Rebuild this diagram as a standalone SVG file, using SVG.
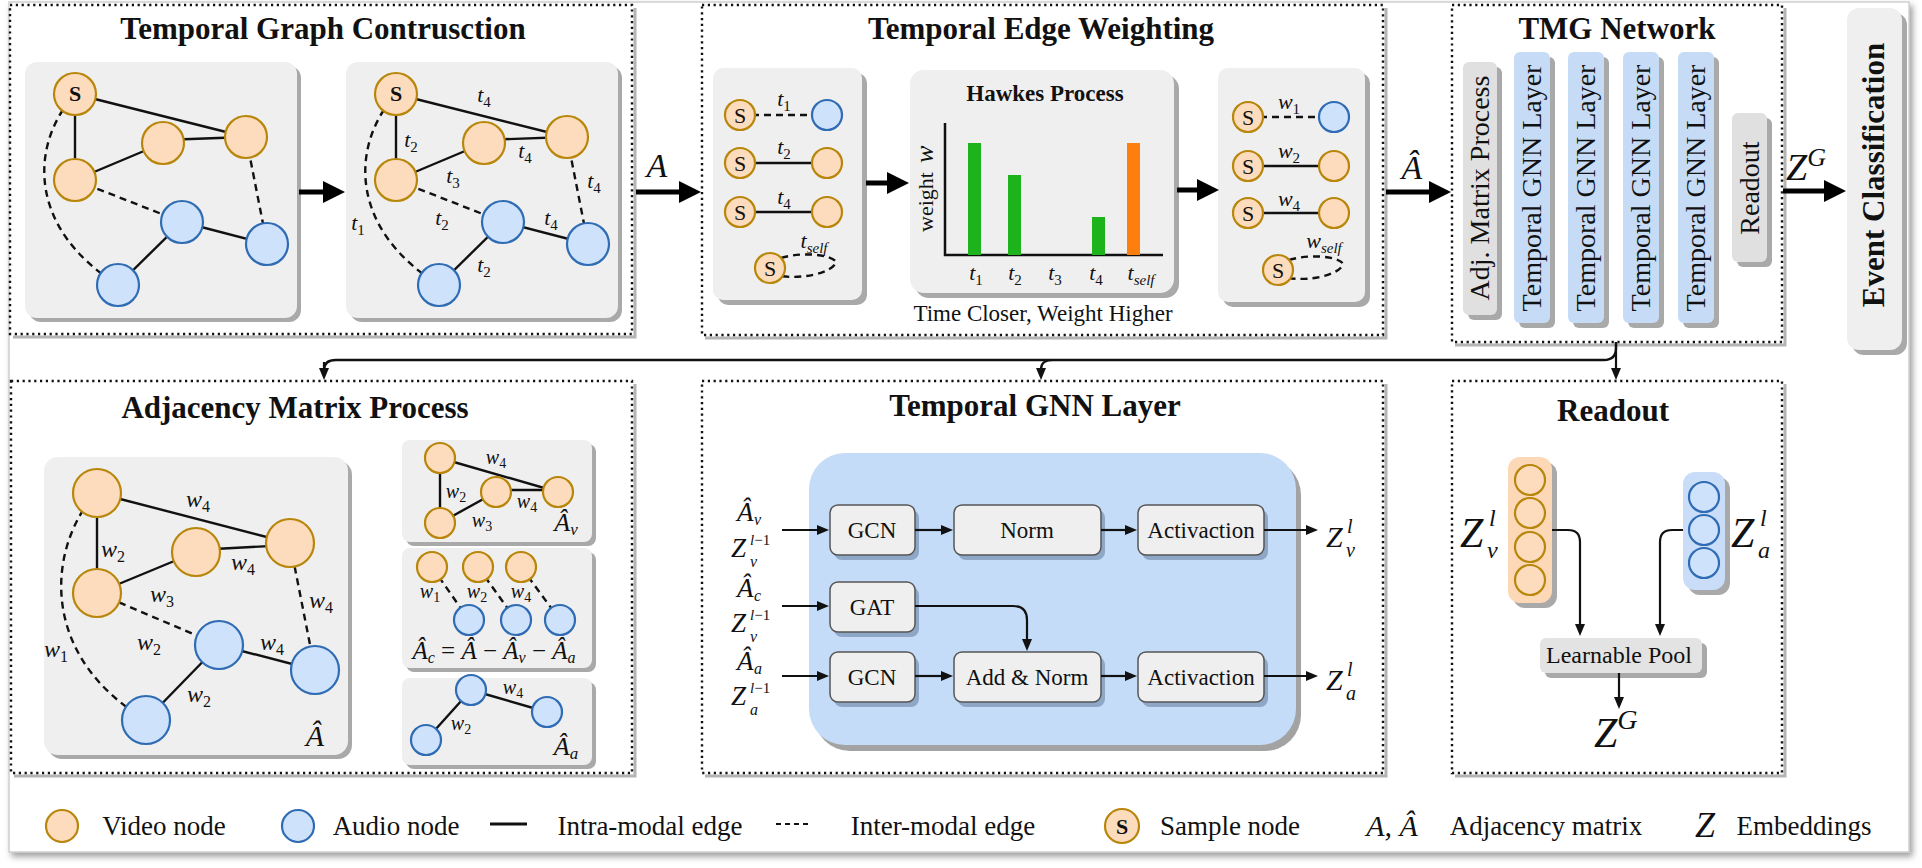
<svg xmlns="http://www.w3.org/2000/svg" width="1922" height="868" viewBox="0 0 1922 868">
<defs>
<style>
.ttl{font-family:"Liberation Serif",serif;font-weight:bold;font-size:31px;text-anchor:middle;fill:#111}
.tx{font-family:"Liberation Serif",serif;fill:#111}
.m{font-family:"Liberation Serif",serif;font-style:italic;fill:#111}
.up{font-style:normal}
.pnl{fill:#fff;stroke:#111;stroke-width:2.4;stroke-dasharray:2.2 3.6}
.psh{fill:none;stroke:#b4b4b4;stroke-width:3}
.box{fill:#efefef}
.sh{fill:#a9a9a9}
.vn{fill:#fddcbd;stroke:#b8860b;stroke-width:2.2}
.an{fill:#cfe2fb;stroke:#2f6cb3;stroke-width:2.2}
.e{stroke:#111;stroke-width:2.4;fill:none}
.d{stroke:#111;stroke-width:2.4;fill:none;stroke-dasharray:7 5}
.big{stroke:#000;stroke-width:5;fill:none;marker-end:url(#bh)}
.thin{stroke:#111;stroke-width:2.2;fill:none;marker-end:url(#th)}
.blu{fill:#c6dcf6}
.gry{fill:#e0e0e0}
.ib{fill:#efefef;stroke:#555;stroke-width:1.5}
.ibs{fill:#8ea7c7}
</style>
<marker id="bh" markerUnits="userSpaceOnUse" markerWidth="22" markerHeight="22" refX="1" refY="11" orient="auto"><path d="M0,0 L22,11 L0,22 z" fill="#000"/></marker>
<marker id="th" markerUnits="userSpaceOnUse" markerWidth="12" markerHeight="10" refX="1" refY="5" orient="auto"><path d="M0,0 L12,5 L0,10 z" fill="#111"/></marker>
<filter id="fs" x="-2%" y="-2%" width="104%" height="106%"><feDropShadow dx="3" dy="4" stdDeviation="3" flood-color="#777" flood-opacity="0.7"/></filter>
</defs>

<rect x="9" y="2" width="1900" height="850" fill="#fff" stroke="#cfcfcf" stroke-width="1.5" filter="url(#fs)"/>

<!-- Panel 1 -->
<g id="panel-graph-construction">
<path class="psh" d="M635 8 V337 H13"/>
<rect class="pnl" x="10" y="5" width="622" height="329"/>
<text class="ttl" x="323" y="39">Temporal Graph Contrusction</text>
<rect class="sh" x="29" y="66" width="272" height="256" rx="12"/>
<rect class="box" x="25" y="62" width="272" height="256" rx="12"/>
<rect class="sh" x="350" y="66" width="272" height="256" rx="12"/>
<rect class="box" x="346" y="62" width="272" height="256" rx="12"/>
<g id="graph-a">
<line class="e" x1="75" y1="94" x2="246" y2="137"/>
<line class="e" x1="75" y1="94" x2="75" y2="180"/>
<line class="e" x1="75" y1="180" x2="163" y2="143"/>
<line class="e" x1="163" y1="140" x2="246" y2="137"/>
<line class="e" x1="182" y1="222" x2="267" y2="244"/>
<line class="e" x1="182" y1="222" x2="118" y2="285"/>
<line class="d" x1="75" y1="180" x2="182" y2="222"/>
<line class="d" x1="246" y1="137" x2="267" y2="244"/>
<path class="d" d="M70 100 C30 150 30 230 118 285"/>
<circle class="vn" cx="75" cy="94" r="21"/>
<circle class="vn" cx="75" cy="180" r="21"/>
<circle class="vn" cx="163" cy="143" r="21"/>
<circle class="vn" cx="246" cy="137" r="21"/>
<circle class="an" cx="182" cy="222" r="21"/>
<circle class="an" cx="267" cy="244" r="21"/>
<circle class="an" cx="118" cy="285" r="21"/>
<text class="tx" x="75" y="101" font-size="22" font-weight="bold" text-anchor="middle">S</text>
</g>
<g id="graph-b" transform="translate(321,0)">
<line class="e" x1="75" y1="94" x2="246" y2="137"/>
<line class="e" x1="75" y1="94" x2="75" y2="180"/>
<line class="e" x1="75" y1="180" x2="163" y2="143"/>
<line class="e" x1="163" y1="140" x2="246" y2="137"/>
<line class="e" x1="182" y1="222" x2="267" y2="244"/>
<line class="e" x1="182" y1="222" x2="118" y2="285"/>
<line class="d" x1="75" y1="180" x2="182" y2="222"/>
<line class="d" x1="246" y1="137" x2="267" y2="244"/>
<path class="d" d="M70 100 C30 150 30 230 118 285"/>
<circle class="vn" cx="75" cy="94" r="21"/>
<circle class="vn" cx="75" cy="180" r="21"/>
<circle class="vn" cx="163" cy="143" r="21"/>
<circle class="vn" cx="246" cy="137" r="21"/>
<circle class="an" cx="182" cy="222" r="21"/>
<circle class="an" cx="267" cy="244" r="21"/>
<circle class="an" cx="118" cy="285" r="21"/>
<text class="tx" x="75" y="101" font-size="22" font-weight="bold" text-anchor="middle">S</text>
</g>
<g font-size="22" class="m" text-anchor="middle">
<text x="484" y="102">t<tspan class="up" font-size="15" dy="5">4</tspan></text>
<text x="411" y="147">t<tspan class="up" font-size="15" dy="5">2</tspan></text>
<text x="525" y="158">t<tspan class="up" font-size="15" dy="5">4</tspan></text>
<text x="453" y="183">t<tspan class="up" font-size="15" dy="5">3</tspan></text>
<text x="594" y="188">t<tspan class="up" font-size="15" dy="5">4</tspan></text>
<text x="442" y="225">t<tspan class="up" font-size="15" dy="5">2</tspan></text>
<text x="551" y="225">t<tspan class="up" font-size="15" dy="5">4</tspan></text>
<text x="358" y="230">t<tspan class="up" font-size="15" dy="5">1</tspan></text>
<text x="484" y="272">t<tspan class="up" font-size="15" dy="5">2</tspan></text>
</g>
<line class="big" x1="299" y1="192" x2="324" y2="192"/>
</g>

<!-- Panel 2 -->
<g id="panel-edge-weighting">
<path class="psh" d="M1386 8 V338 H705"/>
<rect class="pnl" x="702" y="5" width="681" height="330"/>
<text class="ttl" x="1041" y="39">Temporal Edge Weighting</text>
<rect class="sh" x="718" y="73" width="149" height="232" rx="10"/>
<rect class="box" x="713" y="68" width="149" height="232" rx="10"/>
<rect class="sh" x="915" y="75" width="264" height="223" rx="14"/>
<rect class="box" x="910" y="70" width="264" height="223" rx="14"/>
<rect class="sh" x="1223" y="73" width="147" height="234" rx="10"/>
<rect class="box" x="1218" y="68" width="147" height="234" rx="10"/>
<g id="edges-time">
<line class="d" x1="740" y1="115" x2="827" y2="115"/>
<line class="e" x1="740" y1="163" x2="827" y2="163"/>
<line class="e" x1="740" y1="212" x2="827" y2="212"/>
<path class="d" d="M770 262 C795 250 832 254 836 262 C834 272 800 282 770 274"/>
<circle class="vn" cx="740" cy="115" r="15"/><circle class="an" cx="827" cy="115" r="15"/>
<circle class="vn" cx="740" cy="163" r="15"/><circle class="vn" cx="827" cy="163" r="15"/>
<circle class="vn" cx="740" cy="212" r="15"/><circle class="vn" cx="827" cy="212" r="15"/>
<circle class="vn" cx="770" cy="268" r="15"/>
<g class="tx" font-size="22" text-anchor="middle">
<text x="740" y="123">S</text><text x="740" y="171">S</text><text x="740" y="220">S</text><text x="770" y="276">S</text>
</g>
<g class="m" font-size="22" text-anchor="middle">
<text x="784" y="106">t<tspan class="up" font-size="15" dy="5">1</tspan></text>
<text x="784" y="154">t<tspan class="up" font-size="15" dy="5">2</tspan></text>
<text x="784" y="204">t<tspan class="up" font-size="15" dy="5">4</tspan></text>
<text x="814" y="248">t<tspan font-size="15" dy="5">self</tspan></text>
</g>
</g>
<g id="hawkes">
<text class="tx" x="1045" y="101" font-size="23" font-weight="bold" text-anchor="middle">Hawkes Process</text>
<path d="M945 123 V255 H1163" stroke="#111" stroke-width="2.5" fill="none"/>
<rect x="968" y="143" width="13" height="112" fill="#1db31d"/>
<rect x="1008" y="175" width="13" height="80" fill="#1db31d"/>
<rect x="1092" y="217" width="13" height="38" fill="#1db31d"/>
<rect x="1127" y="143" width="13" height="112" fill="#ff7f0e"/>
<text class="tx" transform="translate(933,232) rotate(-90)" font-size="22">weight<tspan class="m" font-size="26" dx="9">w</tspan></text>
<g class="m" font-size="22" text-anchor="middle">
<text x="976" y="280">t<tspan class="up" font-size="15" dy="5">1</tspan></text>
<text x="1015" y="280">t<tspan class="up" font-size="15" dy="5">2</tspan></text>
<text x="1055" y="280">t<tspan class="up" font-size="15" dy="5">3</tspan></text>
<text x="1096" y="280">t<tspan class="up" font-size="15" dy="5">4</tspan></text>
<text x="1141" y="280">t<tspan font-size="15" dy="5">self</tspan></text>
</g>
<text class="tx" x="1043" y="321" font-size="23" text-anchor="middle">Time Closer, Weight Higher</text>
</g>
<g id="edges-weight">
<line class="d" x1="1248" y1="117" x2="1334" y2="117"/>
<line class="e" x1="1248" y1="166" x2="1334" y2="166"/>
<line class="e" x1="1248" y1="213" x2="1334" y2="213"/>
<path class="d" d="M1278 264 C1303 252 1340 256 1343 264 C1341 274 1308 284 1278 276"/>
<circle class="vn" cx="1248" cy="117" r="15"/><circle class="an" cx="1334" cy="117" r="15"/>
<circle class="vn" cx="1248" cy="166" r="15"/><circle class="vn" cx="1334" cy="166" r="15"/>
<circle class="vn" cx="1248" cy="213" r="15"/><circle class="vn" cx="1334" cy="213" r="15"/>
<circle class="vn" cx="1278" cy="270" r="15"/>
<g class="tx" font-size="22" text-anchor="middle">
<text x="1248" y="125">S</text><text x="1248" y="174">S</text><text x="1248" y="221">S</text><text x="1278" y="278">S</text>
</g>
<g class="m" font-size="22" text-anchor="middle">
<text x="1289" y="109">w<tspan class="up" font-size="15" dy="5">1</tspan></text>
<text x="1289" y="158">w<tspan class="up" font-size="15" dy="5">2</tspan></text>
<text x="1289" y="206">w<tspan class="up" font-size="15" dy="5">4</tspan></text>
<text x="1324" y="248">w<tspan font-size="15" dy="5">self</tspan></text>
</g>
</g>
<line class="big" x1="866" y1="183" x2="888" y2="183"/>
<line class="big" x1="1177" y1="190" x2="1198" y2="190"/>
</g>

<!-- TMG network -->
<g id="panel-tmg">
<path class="psh" d="M1785 8 V345 H1455"/>
<rect class="pnl" x="1452" y="5" width="330" height="337"/>
<text class="ttl" x="1617" y="39">TMG Network</text>
<rect class="sh" x="1468" y="67" width="34" height="253" rx="6"/>
<rect class="gry" x="1463" y="62" width="34" height="253" rx="6"/>
<rect class="sh" x="1519" y="57" width="36" height="271" rx="6"/>
<rect class="blu" x="1514" y="52" width="36" height="271" rx="6"/>
<rect class="sh" x="1573" y="57" width="36" height="271" rx="6"/>
<rect class="blu" x="1568" y="52" width="36" height="271" rx="6"/>
<rect class="sh" x="1628" y="57" width="36" height="271" rx="6"/>
<rect class="blu" x="1623" y="52" width="36" height="271" rx="6"/>
<rect class="sh" x="1683" y="57" width="36" height="271" rx="6"/>
<rect class="blu" x="1678" y="52" width="36" height="271" rx="6"/>
<rect class="sh" x="1737" y="118" width="35" height="149" rx="6"/>
<rect class="gry" x="1732" y="113" width="35" height="149" rx="6"/>
<g class="tx" font-size="28" text-anchor="middle">
<text transform="translate(1489,188) rotate(-90)">Adj. Matrix Process</text>
<text transform="translate(1541,188) rotate(-90)">Temporal GNN Layer</text>
<text transform="translate(1595,188) rotate(-90)">Temporal GNN Layer</text>
<text transform="translate(1650,188) rotate(-90)">Temporal GNN Layer</text>
<text transform="translate(1705,188) rotate(-90)">Temporal GNN Layer</text>
<text transform="translate(1759,188) rotate(-90)">Readout</text>
</g>
</g>

<g id="event-classification">
<rect class="sh" x="1852" y="13" width="55" height="342" rx="12"/>
<rect class="box" x="1847" y="8" width="55" height="342" rx="12"/>
<text class="tx" transform="translate(1884,175) rotate(-90)" font-size="31" font-weight="bold" text-anchor="middle">Event Classification</text>
</g>

<!-- main flow labels -->
<g id="flow">
<text class="m" x="657" y="177" font-size="34" text-anchor="middle">A</text>
<line class="big" x1="636" y1="192" x2="680" y2="192"/>
<text class="m" x="1412" y="179" font-size="34" text-anchor="middle">Â</text>
<line class="big" x1="1386" y1="192" x2="1430" y2="192"/>
<text class="m" x="1786" y="180" font-size="38">Z<tspan font-size="26" dy="-14">G</tspan></text>
<line class="big" x1="1783" y1="191" x2="1825" y2="191"/>
</g>

<!-- connectors from TMG -->
<g id="connectors">
<path class="e" d="M1616 342 V348 Q1616 360 1604 360 H336 Q324 360 324 370"/>
<path class="thin" d="M324 362 V369"/>
<path class="thin" d="M1053 360 Q1041 360 1041 369"/>
<path class="thin" d="M1616 342 V369"/>
</g>

<!-- Panel 4 -->
<g id="panel-adjacency">
<path class="psh" d="M635 384 V776 H14"/>
<rect class="pnl" x="11" y="381" width="621" height="392"/>
<text class="ttl" x="295" y="418">Adjacency Matrix Process</text>
<rect class="sh" x="48" y="461" width="304" height="298" rx="14"/>
<rect class="box" x="44" y="457" width="304" height="298" rx="14"/>
<g id="graph-ahat">
<line class="e" x1="97" y1="493" x2="290" y2="543"/>
<line class="e" x1="97" y1="493" x2="97" y2="593"/>
<line class="e" x1="97" y1="593" x2="196" y2="552"/>
<line class="e" x1="196" y1="550" x2="290" y2="545"/>
<line class="e" x1="219" y1="645" x2="315" y2="670"/>
<line class="e" x1="219" y1="645" x2="146" y2="720"/>
<line class="d" x1="97" y1="593" x2="219" y2="645"/>
<line class="d" x1="290" y1="543" x2="315" y2="670"/>
<path class="d" d="M90 500 C45 560 45 660 146 720"/>
<circle class="vn" cx="97" cy="493" r="24"/>
<circle class="vn" cx="97" cy="593" r="24"/>
<circle class="vn" cx="196" cy="552" r="24"/>
<circle class="vn" cx="290" cy="543" r="24"/>
<circle class="an" cx="219" cy="645" r="24"/>
<circle class="an" cx="315" cy="670" r="24"/>
<circle class="an" cx="146" cy="720" r="24"/>
<g class="m" font-size="24" text-anchor="middle">
<text x="198" y="507">w<tspan class="up" font-size="16" dy="5">4</tspan></text>
<text x="113" y="557">w<tspan class="up" font-size="16" dy="5">2</tspan></text>
<text x="243" y="570">w<tspan class="up" font-size="16" dy="5">4</tspan></text>
<text x="162" y="602">w<tspan class="up" font-size="16" dy="5">3</tspan></text>
<text x="321" y="608">w<tspan class="up" font-size="16" dy="5">4</tspan></text>
<text x="149" y="650">w<tspan class="up" font-size="16" dy="5">2</tspan></text>
<text x="272" y="650">w<tspan class="up" font-size="16" dy="5">4</tspan></text>
<text x="56" y="657">w<tspan class="up" font-size="16" dy="5">1</tspan></text>
<text x="199" y="702">w<tspan class="up" font-size="16" dy="5">2</tspan></text>
</g>
<text class="m" x="315" y="746" font-size="30" text-anchor="middle">Â</text>
</g>
<g id="box-av">
<rect class="sh" x="406" y="444" width="190" height="102" rx="8"/>
<rect class="box" x="402" y="440" width="190" height="102" rx="8"/>
<line class="e" x1="440" y1="458" x2="558" y2="492"/>
<line class="e" x1="440" y1="458" x2="440" y2="523"/>
<line class="e" x1="440" y1="523" x2="496" y2="492"/>
<line class="e" x1="496" y1="490" x2="558" y2="490"/>
<circle class="vn" cx="440" cy="458" r="15"/>
<circle class="vn" cx="440" cy="523" r="15"/>
<circle class="vn" cx="496" cy="492" r="15"/>
<circle class="vn" cx="558" cy="492" r="15"/>
<g class="m" font-size="20" text-anchor="middle">
<text x="496" y="464">w<tspan class="up" font-size="14" dy="4">4</tspan></text>
<text x="456" y="498">w<tspan class="up" font-size="14" dy="4">2</tspan></text>
<text x="527" y="508">w<tspan class="up" font-size="14" dy="4">4</tspan></text>
<text x="482" y="527">w<tspan class="up" font-size="14" dy="4">3</tspan></text>
</g>
<text class="m" x="566" y="531" font-size="26" text-anchor="middle">Â<tspan font-size="17" dy="4">v</tspan></text>
</g>
<g id="box-ac">
<rect class="sh" x="406" y="552" width="190" height="120" rx="8"/>
<rect class="box" x="402" y="548" width="190" height="120" rx="8"/>
<line class="d" x1="432" y1="567" x2="469" y2="620" stroke-dasharray="5 4"/>
<line class="d" x1="478" y1="567" x2="516" y2="620" stroke-dasharray="5 4"/>
<line class="d" x1="521" y1="567" x2="560" y2="620" stroke-dasharray="5 4"/>
<circle class="vn" cx="432" cy="567" r="15"/>
<circle class="vn" cx="478" cy="567" r="15"/>
<circle class="vn" cx="521" cy="567" r="15"/>
<circle class="an" cx="469" cy="620" r="15"/>
<circle class="an" cx="516" cy="620" r="15"/>
<circle class="an" cx="560" cy="620" r="15"/>
<g class="m" font-size="20" text-anchor="middle">
<text x="430" y="598">w<tspan class="up" font-size="14" dy="4">1</tspan></text>
<text x="477" y="598">w<tspan class="up" font-size="14" dy="4">2</tspan></text>
<text x="521" y="598">w<tspan class="up" font-size="14" dy="4">4</tspan></text>
</g>
<text class="m" x="494" y="659" font-size="25" text-anchor="middle">Â<tspan font-size="16" dy="4">c</tspan><tspan class="up" dy="-4"> = </tspan>Â<tspan class="up"> − </tspan>Â<tspan font-size="16" dy="4">v</tspan><tspan class="up" dy="-4"> − </tspan>Â<tspan font-size="16" dy="4">a</tspan></text>
</g>
<g id="box-aa">
<rect class="sh" x="406" y="682" width="190" height="87" rx="8"/>
<rect class="box" x="402" y="678" width="190" height="87" rx="8"/>
<line class="e" x1="471" y1="690" x2="547" y2="712"/>
<line class="e" x1="471" y1="690" x2="426" y2="740"/>
<circle class="an" cx="471" cy="690" r="15"/>
<circle class="an" cx="547" cy="712" r="15"/>
<circle class="an" cx="426" cy="740" r="15"/>
<g class="m" font-size="20" text-anchor="middle">
<text x="513" y="694">w<tspan class="up" font-size="14" dy="4">4</tspan></text>
<text x="461" y="730">w<tspan class="up" font-size="14" dy="4">2</tspan></text>
</g>
<text class="m" x="566" y="755" font-size="26" text-anchor="middle">Â<tspan font-size="17" dy="4">a</tspan></text>
</g>
</g>

<!-- Panel 5 -->
<g id="panel-gnn-layer">
<path class="psh" d="M1386 384 V776 H705"/>
<rect class="pnl" x="702" y="381" width="681" height="392"/>
<text class="ttl" x="1035" y="416">Temporal GNN Layer</text>
<rect x="814" y="459" width="487" height="292" rx="36" fill="#a3a3a3"/>
<rect x="809" y="453" width="487" height="292" rx="36" fill="#c4dcf7"/>
<g id="gnn-boxes">
<rect class="ibs" x="834" y="510" width="85" height="50" rx="8"/><rect class="ib" x="830" y="505" width="85" height="50" rx="8"/>
<rect class="ibs" x="958" y="510" width="147" height="50" rx="8"/><rect class="ib" x="954" y="505" width="147" height="50" rx="8"/>
<rect class="ibs" x="1142" y="510" width="126" height="50" rx="8"/><rect class="ib" x="1138" y="505" width="126" height="50" rx="8"/>
<rect class="ibs" x="834" y="587" width="85" height="50" rx="8"/><rect class="ib" x="830" y="582" width="85" height="50" rx="8"/>
<rect class="ibs" x="834" y="657" width="85" height="50" rx="8"/><rect class="ib" x="830" y="652" width="85" height="50" rx="8"/>
<rect class="ibs" x="958" y="657" width="147" height="50" rx="8"/><rect class="ib" x="954" y="652" width="147" height="50" rx="8"/>
<rect class="ibs" x="1142" y="657" width="126" height="50" rx="8"/><rect class="ib" x="1138" y="652" width="126" height="50" rx="8"/>
<g class="tx" font-size="23" text-anchor="middle">
<text x="872" y="538">GCN</text>
<text x="1027" y="538">Norm</text>
<text x="1201" y="538">Activaction</text>
<text x="872" y="615">GAT</text>
<text x="872" y="685">GCN</text>
<text x="1027" y="685">Add &amp; Norm</text>
<text x="1201" y="685">Activaction</text>
</g>
</g>
<g id="gnn-arrows">
<line class="thin" x1="782" y1="530" x2="818" y2="530"/>
<line class="thin" x1="915" y1="530" x2="942" y2="530"/>
<line class="thin" x1="1101" y1="530" x2="1126" y2="530"/>
<line class="thin" x1="1264" y1="530" x2="1307" y2="530"/>
<line class="thin" x1="782" y1="606" x2="818" y2="606"/>
<path class="thin" d="M915 606 H1013 Q1027 606 1027 620 V640"/>
<line class="thin" x1="782" y1="676" x2="818" y2="676"/>
<line class="thin" x1="915" y1="676" x2="942" y2="676"/>
<line class="thin" x1="1101" y1="676" x2="1126" y2="676"/>
<line class="thin" x1="1264" y1="676" x2="1307" y2="676"/>
</g>
<g class="m">
<text x="737" y="521" font-size="27">Â</text><text x="754" y="525" font-size="16">v</text>
<text x="731" y="557" font-size="27">Z</text><text x="750" y="545" font-size="15">l<tspan class="up">−1</tspan></text><text x="750" y="567" font-size="16">v</text>
<text x="737" y="597" font-size="27">Â</text><text x="754" y="601" font-size="16">c</text>
<text x="731" y="632" font-size="27">Z</text><text x="750" y="620" font-size="15">l<tspan class="up">−1</tspan></text><text x="750" y="642" font-size="16">v</text>
<text x="737" y="670" font-size="27">Â</text><text x="754" y="674" font-size="16">a</text>
<text x="731" y="705" font-size="27">Z</text><text x="750" y="693" font-size="15">l<tspan class="up">−1</tspan></text><text x="750" y="715" font-size="16">a</text>
<text x="1326" y="547" font-size="30">Z</text>
<text x="1347" y="533" font-size="20">l</text>
<text x="1346" y="557" font-size="20">v</text>
<text x="1326" y="690" font-size="30">Z</text>
<text x="1347" y="676" font-size="20">l</text>
<text x="1346" y="700" font-size="20">a</text>
</g>
</g>

<!-- Panel 6 -->
<g id="panel-readout">
<path class="psh" d="M1785 384 V776 H1455"/>
<rect class="pnl" x="1452" y="381" width="330" height="392"/>
<text class="ttl" x="1613" y="421">Readout</text>
<rect x="1513" y="462" width="44" height="146" rx="12" fill="#a9a9a9"/>
<rect x="1508" y="457" width="44" height="146" rx="12" fill="#fcd8b6"/>
<circle class="vn" cx="1530" cy="480" r="15"/>
<circle class="vn" cx="1530" cy="513" r="15"/>
<circle class="vn" cx="1530" cy="547" r="15"/>
<circle class="vn" cx="1530" cy="580" r="15"/>
<rect x="1688" y="477" width="42" height="118" rx="12" fill="#a9a9a9"/>
<rect x="1683" y="472" width="42" height="118" rx="12" fill="#c9ddf8"/>
<circle class="an" cx="1704" cy="497" r="15"/>
<circle class="an" cx="1704" cy="530" r="15"/>
<circle class="an" cx="1704" cy="563" r="15"/>
<path class="thin" d="M1552 530 H1568 Q1580 530 1580 542 V625"/>
<path class="thin" d="M1683 530 H1672 Q1660 530 1660 542 V625"/>
<rect x="1545" y="643" width="162" height="35" rx="6" fill="#a9a9a9"/>
<rect x="1540" y="638" width="162" height="35" rx="6" fill="#e3e3e3"/>
<text class="tx" x="1619" y="663" font-size="24" text-anchor="middle">Learnable Pool</text>
<path class="thin" d="M1619 673 V698"/>
<g class="m">
<text x="1460" y="547" font-size="42">Z</text>
<text x="1489" y="526" font-size="24">l</text>
<text x="1487" y="558" font-size="24">v</text>
<text x="1731" y="547" font-size="42">Z</text>
<text x="1760" y="526" font-size="24">l</text>
<text x="1758" y="558" font-size="24">a</text>
<text x="1594" y="747" font-size="42">Z<tspan font-size="28" dy="-18">G</tspan></text>
</g>
</g>

<!-- Legend -->
<g id="legend">
<circle class="vn" cx="62" cy="826" r="16"/>
<circle class="an" cx="298" cy="826" r="16"/>
<line x1="490" y1="824" x2="527" y2="824" stroke="#111" stroke-width="3"/>
<line x1="776" y1="824" x2="810" y2="824" stroke="#111" stroke-width="2" stroke-dasharray="5 4"/>
<circle class="vn" cx="1122" cy="826" r="17"/>
<text class="tx" x="1122" y="834" font-size="22" font-weight="bold" text-anchor="middle">S</text>
<g class="tx" font-size="27" text-anchor="middle">
<text x="164" y="835">Video node</text>
<text x="396" y="835">Audio node</text>
<text x="650" y="835">Intra-modal edge</text>
<text x="943" y="835">Inter-modal edge</text>
<text x="1230" y="835">Sample node</text>
<text x="1546" y="835">Adjacency matrix</text>
<text x="1804" y="835">Embeddings</text>
</g>
<text class="m" x="1392" y="836" font-size="30" text-anchor="middle">A, Â</text>
<text class="m" x="1705" y="837" font-size="36" text-anchor="middle">Z</text>
</g>
</svg>
